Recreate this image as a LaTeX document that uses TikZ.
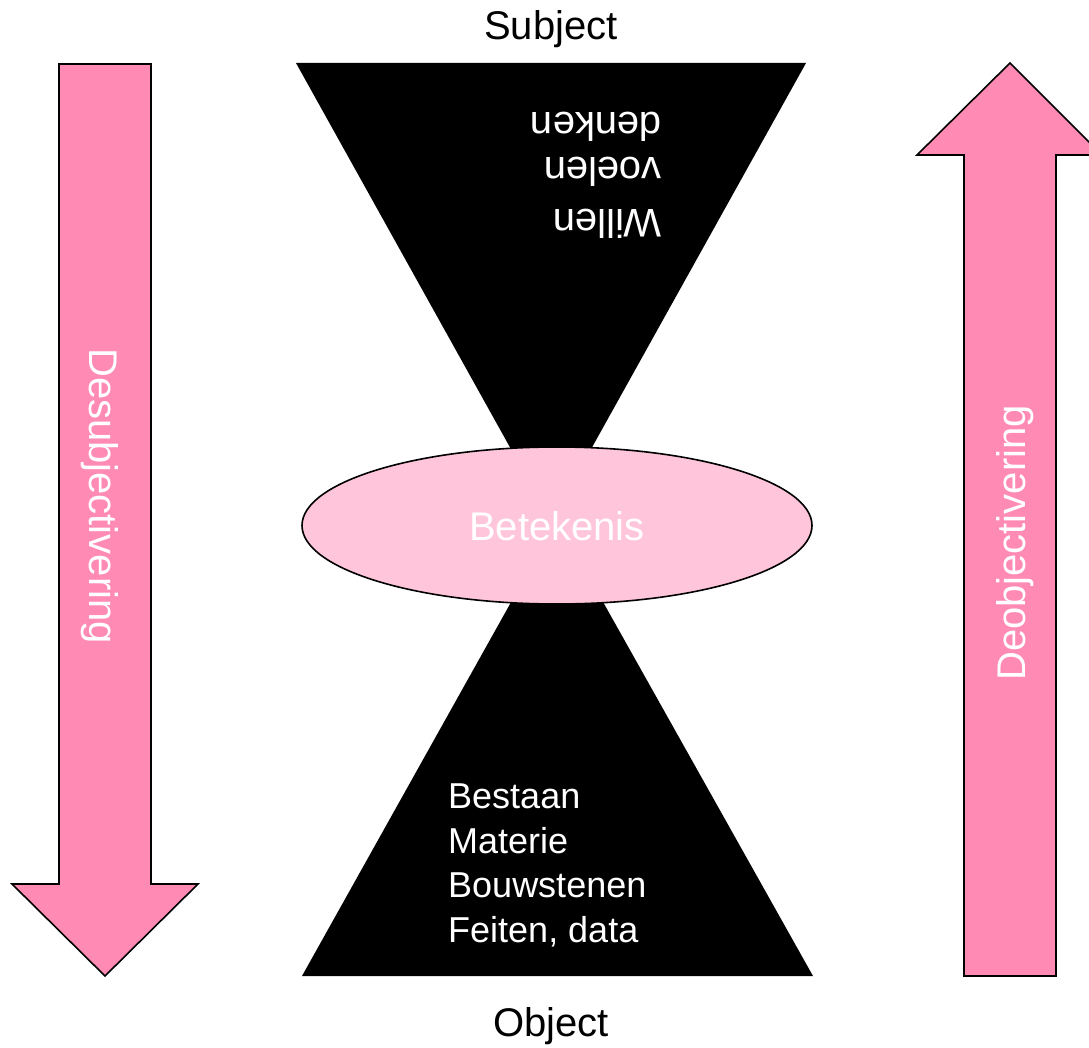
\documentclass[tikz,border=0pt]{standalone}
\usepackage{fontspec}
\setmainfont{Liberation Sans}
\usetikzlibrary{shapes.geometric}
\definecolor{arrowpink}{RGB}{255,139,181}
\definecolor{ellpink}{RGB}{255,197,218}
\tikzset{
  bigarrow/.style={fill=arrowpink,draw=black,line width=1.6pt,line join=miter},
  cone/.style={fill=black,draw=none},
  lbl/.style={font=\fontsize{40}{48}\selectfont,inner sep=0pt,text=black},
  wlbl/.style={font=\fontsize{40}{48}\selectfont,inner sep=0pt,text=white},
  blbl/.style={font=\fontsize{36}{44}\selectfont,inner sep=0pt,text=white,anchor=base west}
}
\begin{document}
\begin{tikzpicture}[x=1pt,y=-1pt]
\useasboundingbox (0,0) rectangle (1089,1048);
% left arrow (down)
\draw[bigarrow] (59,64) -- (151,64) -- (151,884) -- (198,884) -- (105,976) -- (12,884) -- (59,884) -- cycle;
% right arrow (up)
\draw[bigarrow] (964,976) -- (1056,976) -- (1056,155) -- (1102,155) -- (1010,63) -- (917,155) -- (964,155) -- cycle;
% cones
\fill[cone] (296,63) -- (806,63) -- (551,521) -- cycle;
\fill[cone] (302,976) -- (813,976) -- (557,520) -- cycle;
% ellipse
\node[ellipse,draw=black,line width=1.6pt,fill=ellpink,minimum width=510pt,minimum height=157pt,inner sep=0pt] (bet) at (557,525.5) {};
\node[wlbl,anchor=base] (bettxt) at (557,540) {Betekenis};
% labels
\node[lbl,anchor=base] (subj) at (551,40) {Subject};
\node[lbl,anchor=base] (obj) at (551,1036) {Object};
% upside-down text
\node[wlbl,rotate=180,anchor=base west] (t1) at (662,113) {denken};
\node[wlbl,rotate=180,anchor=base west] (t2) at (662,158) {voelen};
\node[wlbl,rotate=180,anchor=base west] (t3) at (662,210) {Willen};
% bottom text
\node[blbl] (b1) at (448,808) {Bestaan};
\node[blbl] (b2) at (448,853) {Materie};
\node[blbl] (b3) at (448,897) {Bouwstenen};
\node[blbl] (b4) at (448,942) {Feiten, data};
% arrow texts
\node[wlbl,rotate=-90,anchor=base] (desub) at (89,496) {Desubjectivering};
\node[wlbl,rotate=90,anchor=base] (deobj) at (1025,543) {Deobjectivering};
\end{tikzpicture}
\end{document}
